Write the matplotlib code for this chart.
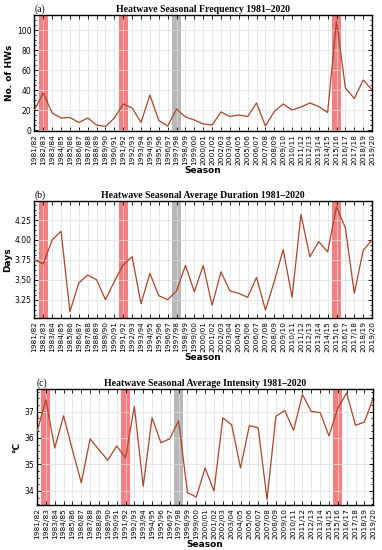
#!/usr/bin/env python3
import matplotlib
matplotlib.use("Agg")
import matplotlib.pyplot as plt
from matplotlib.ticker import AutoMinorLocator

seasons = ["%d/%02d" % (y, (y + 1) % 100) for y in range(1981, 2020)]

# number of heatwaves per season
frequency = [20, 37, 17, 12, 12.5, 7.5, 12, 5, 3.5, 12, 26, 22, 7.5, 35, 9.5, 4,
             21, 13, 10, 6, 5, 18, 13.5, 15, 13.5, 27, 4, 18.5, 26, 20, 23, 27,
             23.5, 17.5, 109, 42, 31.5, 50, 40]

# average duration (days)
duration = [3.75, 3.70, 4.00, 4.11, 3.10, 3.46, 3.56, 3.50, 3.25, 3.48, 3.69, 3.79,
            3.20, 3.58, 3.30, 3.25, 3.36, 3.68, 3.35, 3.68, 3.18, 3.60, 3.36, 3.33,
            3.28, 3.53, 3.12, 3.48, 3.88, 3.28, 4.32, 3.79, 3.98, 3.85, 4.42, 4.15,
            3.33, 3.87, 4.00]

# average intensity (deg C)
intensity = [36.25, 37.44, 35.62, 36.84, 35.55, 34.31, 35.97, 35.55, 35.16, 35.70,
             35.25, 37.19, 34.18, 36.77, 35.82, 35.97, 36.65, 33.94, 33.77, 34.87,
             34.00, 36.76, 36.50, 34.87, 36.47, 36.38, 33.68, 36.82, 37.04, 36.29,
             37.64, 37.00, 36.96, 36.08, 37.13, 37.70, 36.48, 36.60, 37.50]

red_seasons = ["1982/83", "1991/92", "2015/16"]
grey_seasons = ["1997/98"]

panels = [
    ("(a)", "Heatwave Seasonal Frequency 1981\u20132020", "No. of HWs", frequency,
     (-1, 115), [0, 20, 40, 60, 80, 100]),
    ("(b)", "Heatwave Seasonal Average Duration 1981\u20132020", "Days", duration,
     (3.02, 4.49), [3.25, 3.50, 3.75, 4.00, 4.25]),
    ("(c)", "Heatwave Seasonal Average Intensity 1981\u20132020", "\u00b0C", intensity,
     (33.47, 37.85), [34, 35, 36, 37]),
]

line_col = "#a8452a"
serif = ["Liberation Serif", "DejaVu Serif"]

fig = plt.figure(figsize=(3.82, 5.5), dpi=100)
# axes boxes in figure fraction: left, bottom, width, height
boxes = [(0.090, 1 - 131 / 550, 0.884, 116 / 550),
         (0.090, 1 - 318 / 550, 0.884, 117 / 550),
         (0.097, 1 - 505 / 550, 0.880, 116 / 550)]

x = list(range(len(seasons)))

for (lab, title, ylab, vals, ylim, yticks), box in zip(panels, boxes):
    ax = fig.add_axes(box)
    for s in red_seasons:
        i = seasons.index(s)
        ax.axvspan(i - 0.5, i + 0.5, color="#f03a3a", alpha=0.65, lw=0, zorder=1)
    for s in grey_seasons:
        i = seasons.index(s)
        ax.axvspan(i - 0.5, i + 0.5, color="#9a9a9a", alpha=0.7, lw=0, zorder=1)
    ax.plot(x, vals, color=line_col, lw=0.9, zorder=3)
    ax.set_xlim(0, len(seasons) - 1)
    ax.set_ylim(*ylim)
    ax.set_xticks(x)
    ax.set_xticklabels(seasons, rotation=90, fontsize=5.3)
    ax.set_yticks(yticks)
    if ylab == "Days":
        ax.set_yticklabels(["%.2f" % v for v in yticks])
    ax.yaxis.set_minor_locator(AutoMinorLocator(4))
    ax.tick_params(axis="y", labelsize=5.5)
    ax.tick_params(which="both", direction="in", top=True, right=True,
                   width=0.6, pad=2)
    ax.tick_params(which="major", length=3)
    ax.tick_params(which="minor", length=1.6)
    ax.grid(True, color="#dddddd", lw=0.5, zorder=0)
    for sp in ax.spines.values():
        sp.set_linewidth(1.0)
    ax.set_ylabel(ylab, fontsize=6.5, fontweight="bold", labelpad=2)
    ax.set_xlabel("Season", fontsize=6.5, fontweight="bold", labelpad=1)
    ax.set_title(title, fontsize=7, fontweight="bold", family=serif, pad=2)
    ax.text(0.0, 1.012, lab, transform=ax.transAxes, fontsize=7, family=serif,
            ha="left", va="bottom")

fig.savefig("out.png", dpi=100)
